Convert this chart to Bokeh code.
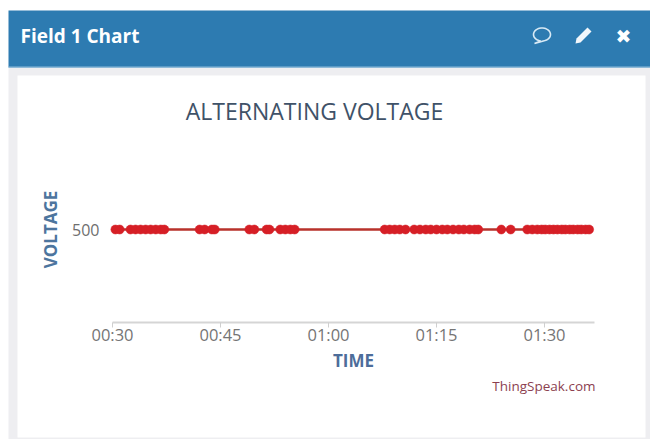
import numpy as np
from bokeh.embed import file_html
from bokeh.models import BoxAnnotation, FixedTicker, Label, PolyAnnotation, Range1d
from bokeh.plotting import figure
from bokeh.resources import INLINE

# Minutes after midnight
minutes = [30.4, 31.0, 32.5, 33.2, 33.9, 34.6, 35.3, 36.0, 36.7, 37.2,
           42.1, 42.8, 43.8, 44.2,
           49.0, 49.7, 51.4, 51.8, 53.3, 54.0, 54.7, 55.3,
           67.8, 68.5, 69.2, 69.9, 70.7,
           71.9, 72.7, 73.5, 74.2, 75.0, 75.8, 76.5, 77.3, 78.1, 78.8, 79.6, 80.3, 80.8,
           84.0, 85.3,
           87.6, 88.3, 89.0, 89.6, 90.1, 90.7, 91.25, 91.8, 92.4, 92.9, 93.5, 94.0, 94.6, 95.1, 95.7, 96.2]
voltage = [500] * len(minutes)
x_ticks = [30, 45, 60, 75, 90]
x_tick_labels = ["00:30", "00:45", "01:00", "01:15", "01:30"]
y_ticks = [500]
title_text = "ALTERNATING VOLTAGE"
panel_text = "Field 1 Chart"
x_title = "TIME"
y_title = "VOLTAGE"
credit = "ThingSpeak.com"

W, H = 650, 439
FONT = "Open Sans"

# The plot frame fills the canvas; the axes sit at fixed data positions inside it,
# so the panel decoration can be drawn in screen units.
X0, PX_PER_MIN = 112, 7.2
Y0, PX_PER_UNIT = 322, 93 / 500
p = figure(width=W, height=H, output_backend="svg", toolbar_location=None,
           x_range=Range1d(30 - X0 / PX_PER_MIN, 30 + (W - X0) / PX_PER_MIN),
           y_range=Range1d(-(H - Y0) / PX_PER_UNIT, Y0 / PX_PER_UNIT),
           min_border_left=0, min_border_right=0, min_border_top=0, min_border_bottom=0)
p.border_fill_color = "#ffffff"
p.background_fill_color = "#ffffff"
p.outline_line_color = None
p.grid.visible = False


def box(l, r, t, b, color):
    p.add_layout(BoxAnnotation(left=l, right=r, top=H - t, bottom=H - b,
                               left_units="screen", right_units="screen",
                               top_units="screen", bottom_units="screen",
                               fill_color=color, fill_alpha=1, line_color=None,
                               level="underlay", editable=False))


box(8, 650, 67, 439, "#eeeef1")
box(17, 645, 75, 437, "#ffffff")
box(8, 650, 10, 67, "#2d7bb1")
box(8, 650, 66, 67, "#8dbcdc")

p.line(minutes, voltage, line_color="#b8322b", line_width=2.5)
p.scatter(minutes, voltage, size=9, fill_color="#d61f26", line_color="#d61f26", line_width=0.5)

xa = p.xaxis[0]
xa.fixed_location = 0
xa.bounds = (30, 96.9)
xa.ticker = FixedTicker(ticks=x_ticks)
xa.major_label_overrides = dict(zip(x_ticks, x_tick_labels))
xa.axis_line_color = "#d5d5d5"
xa.axis_line_width = 2
xa.major_tick_line_color = "#cfcfcf"
xa.major_tick_in = 0
xa.major_tick_out = 5
xa.minor_tick_line_color = None
xa.major_label_text_font = FONT
xa.major_label_text_font_size = "16.5px"
xa.major_label_text_color = "#757575"
xa.major_label_standoff = -5
xa.axis_label = x_title
xa.axis_label_text_font = FONT
xa.axis_label_text_font_size = "17px"
xa.axis_label_text_font_style = "bold"
xa.axis_label_text_color = "#4d6d9a"
xa.axis_label_standoff = 0

ya = p.yaxis[0]
ya.fixed_location = 30
ya.bounds = (0, 1000)
ya.ticker = FixedTicker(ticks=y_ticks)
ya.axis_line_color = None
ya.major_tick_line_color = None
ya.minor_tick_line_color = None
ya.major_label_text_font = FONT
ya.major_label_text_font_size = "16px"
ya.major_label_text_color = "#6e6e6e"
ya.major_label_standoff = 7
ya.axis_label = y_title
ya.axis_label_text_font = FONT
ya.axis_label_text_font_size = "17px"
ya.axis_label_text_font_style = "bold"
ya.axis_label_text_color = "#4d759e"
ya.axis_label_standoff = 7


def text(x, y, s, size, color, font=FONT, style="normal", align="left"):
    p.add_layout(Label(x=x, y=H - y, x_units="screen", y_units="screen", text=s,
                       text_font=font, text_font_size=size, text_color=color,
                       text_font_style=style, text_align=align, text_baseline="middle"))


text(314, 110, title_text, "23px", "#3f5268", align="center")
text(20, 35, panel_text, "19px", "#ffffff", style="bold")
text(595, 385, credit, "13.5px", "#8c3f50", align="right")
text(623, 35, "\u2716", "19px", "#ffffff", font="DejaVu Sans", align="center")


def poly(xs, ys, fill, line=None, alpha=1.0):
    p.add_layout(PolyAnnotation(xs=list(map(float, xs)), ys=[float(H - y) for y in ys],
                                xs_units="screen", ys_units="screen",
                                fill_color=fill, fill_alpha=alpha,
                                line_color=line, line_alpha=1.0, line_width=1.6, editable=False))


# comment bubble icon
t = np.linspace(0.55 * np.pi, 2.45 * np.pi, 30)
bx = list(541.5 + 8.5 * np.cos(t)) + [534]
by = list(34 + 6.5 * np.sin(t)) + [43]
poly(bx, by, None, "#d8eaf5", 0)
# pencil icon
poly([576, 587, 591, 580, 575], [38, 27, 31, 42, 43], "#f2f7fb")

open("out.html", "w").write(file_html(p, INLINE))
